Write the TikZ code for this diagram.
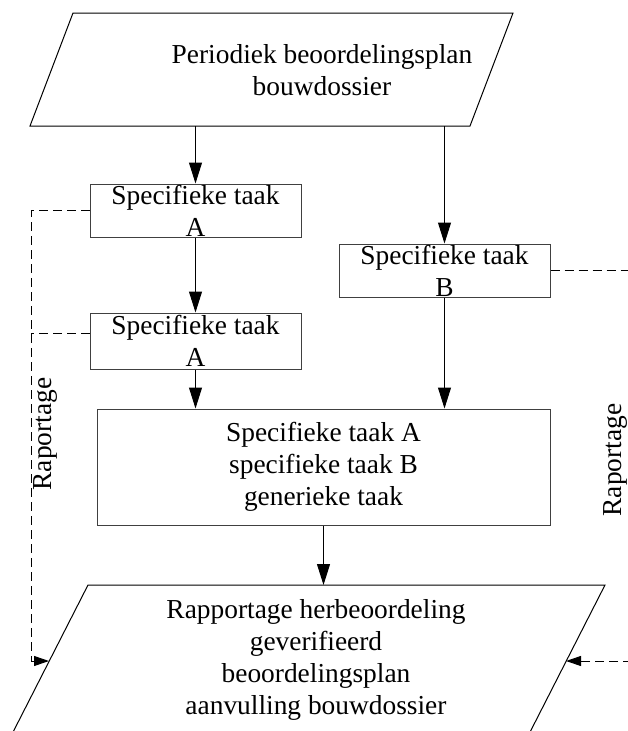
\documentclass[tikz,border=0pt]{standalone}
\usepackage{fontspec}
\setmainfont{Liberation Serif}
\usetikzlibrary{arrows.meta}

\tikzset{
  taak/.style={draw=black!75,line width=1pt,minimum width=211pt,inner sep=0pt,align=center},
  tekst/.style={align=center,inner sep=0pt},
  pijl/.style={-{Triangle[length=21pt,width=13pt]},line width=1pt},
  rapp/.style={dash pattern=on 9pt off 5pt,line width=1pt},
  rapppijl/.style={rapp,-{Triangle[length=15pt,width=10pt]}}
}

\begin{document}
\begin{tikzpicture}[x=1pt,y=-1pt,font=\fontsize{27.4}{32}\selectfont]
\useasboundingbox (0,0) rectangle (628,731);
\clip (0,0) rectangle (628,731);

\draw[line width=1pt] (73,13) -- (513,13) -- (470,126) -- (30,126) -- cycle;
\node[tekst] (plan) at (322,70) {Periodiek beoordelingsplan\\bouwdossier};
\coordinate (plan-a) at (195.5,126);
\coordinate (plan-b) at (444.5,126);

\node[taak,minimum height=53pt] (taakA1) at (195.5,210.5) {Specifieke taak\\A};
\node[taak,minimum height=56pt] (taakA2) at (195.5,341) {Specifieke taak\\A};
\node[taak,minimum height=53pt] (taakB) at (444.5,270.5) {Specifieke taak\\B};
\node[taak,minimum width=453pt,minimum height=116pt] (alle) at (323.5,467) {Specifieke taak A\\specifieke taak B\\generieke taak};

\draw[line width=1pt] (88,585) -- (605,585) -- (526,740) -- (9,740) -- cycle;
\node[tekst] (verslag) at (316,660) {Rapportage herbeoordeling\\geverifieerd\\beoordelingsplan\\aanvulling bouwdossier};
\coordinate (verslag-t) at (323.5,585);
\coordinate (verslag-l) at (49,661);
\coordinate (verslag-r) at (566,661);

\draw[pijl] (plan-a) -- (taakA1);
\draw[pijl] (plan-b) -- (taakB);
\draw[pijl] (taakA1) -- (taakA2);
\draw[pijl] (taakA2) -- (taakA2 |- alle.north);
\draw[pijl] (taakB) -- (taakB |- alle.north);
\draw[pijl] (alle) -- (verslag-t);

\coordinate (links-o) at (31,661);
\coordinate (rechts-b) at (632,270.5);
\coordinate (rechts-o) at (632,661);
\draw[rapppijl] (taakA1.west) -| (links-o) -- (verslag-l);
\draw[rapp] ([yshift=8pt]taakA2.west) -- ([yshift=8pt]taakA2.west -| links-o);
\draw[rapp] (taakB.east) -- (rechts-b);
\draw[rapppijl] (rechts-o) -- (verslag-r);

\node[tekst,rotate=90] (rap-l) at (45,434) {Raportage};
\node[tekst,rotate=90] (rap-r) at (615,460) {Raportage};
\end{tikzpicture}
\end{document}
